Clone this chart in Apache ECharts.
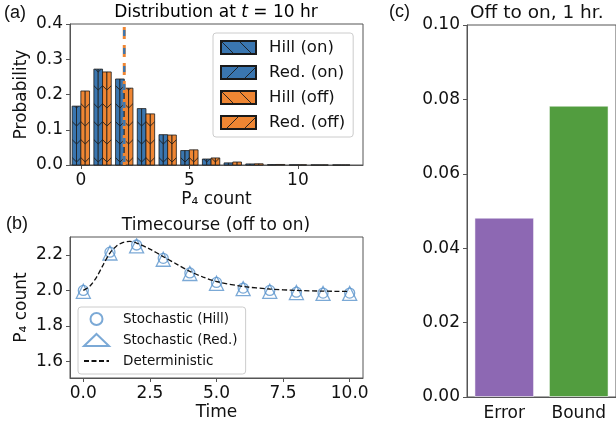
<!DOCTYPE html>
<html>
<head>
<meta charset="utf-8">
<script src="https://cdn.jsdelivr.net/npm/echarts@6/dist/echarts.min.js"></script>
<style>
  html, body { margin: 0; padding: 0; background: #fff; }
  #main { width: 616px; height: 428px; }
</style>
</head>
<body>
<div id="main"></div>
<script>
// (a) distribution at t = 10 hr
var counts = [0, 1, 2, 3, 4, 5, 6, 7, 8, 9, 10, 11, 12];
var hillOn  = [0.167, 0.272, 0.244, 0.160, 0.086, 0.041, 0.017, 0.006, 0.003, 0.001, 0.0005, 0.0002, 0.0001];
var redOn   = [0.167, 0.272, 0.244, 0.160, 0.086, 0.041, 0.017, 0.006, 0.003, 0.001, 0.0005, 0.0002, 0.0001];
var hillOff = [0.210, 0.264, 0.218, 0.145, 0.085, 0.043, 0.020, 0.0085, 0.0035, 0.0015, 0.0005, 0.0002, 0.0001];
var redOff  = [0.210, 0.264, 0.218, 0.145, 0.085, 0.043, 0.020, 0.0085, 0.0035, 0.0015, 0.0005, 0.0002, 0.0001];
var meanCount = 2;

// (b) timecourse
var times     = [0, 1, 2, 3, 4, 5, 6, 7, 8, 9, 10];
var stochHill = [2.00, 2.215, 2.255, 2.180, 2.098, 2.045, 2.013, 2.000, 1.990, 1.985, 1.985];
var stochRed  = [1.995, 2.21, 2.25, 2.175, 2.095, 2.040, 2.010, 1.995, 1.988, 1.983, 1.983];
var detT   = [0, 0.25, 0.5, 0.75, 1, 1.25, 1.5, 1.75, 2, 2.5, 3, 3.5, 4, 4.5, 5, 6, 7, 8, 9, 10];
var detVal = [2.00, 2.025, 2.075, 2.145, 2.21, 2.25, 2.27, 2.275, 2.266, 2.232, 2.19, 2.148, 2.107, 2.075, 2.05, 2.022, 2.008, 2.000, 1.996, 1.994];

// (c) off to on, 1 hr
var barCats = ['Error', 'Bound'];
var barVals = [0.0482, 0.0783];

var FONT = 'DejaVu Sans';
var BLUE = '#3a76b0', ORANGE = '#ef8633';
var TILE = 18;

// hatch tile: '\' or '/' lines over a solid colour
function hatchCanvas(color, dir) {
  var c = document.createElement('canvas');
  c.width = TILE; c.height = TILE;
  var g = c.getContext('2d');
  g.fillStyle = color;
  g.fillRect(0, 0, TILE, TILE);
  g.strokeStyle = '#1a1a1a';
  g.lineWidth = 0.9;
  g.beginPath();
  for (var k = -1; k <= 1; k++) {
    if (dir === '\\') {
      g.moveTo(-2, -2 + k * TILE); g.lineTo(TILE + 2, TILE + 2 + k * TILE);
    } else {
      g.moveTo(-2, TILE + 2 + k * TILE); g.lineTo(TILE + 2, -2 + k * TILE);
    }
  }
  g.stroke();
  return c;
}

function pairs(xs, ys) {
  return xs.map(function (x, i) { return [x, ys[i]]; });
}

// off = left edge offset from count, seam = where the two hatches meet
function histSeries(name, vals, off, seam, cvs) {
  return {
    name: name,
    type: 'custom',
    xAxisIndex: 0, yAxisIndex: 0,
    itemStyle: { color: { image: cvs, repeat: 'repeat' }, borderColor: '#1a1a1a', borderWidth: 0.8 },
    data: pairs(counts, vals),
    renderItem: function (params, api) {
      var x = api.value(0), y = api.value(1);
      var p0 = api.coord([x + off, y]);
      var p1 = api.coord([x + off + 0.2, 0]);
      var s = api.coord([x + seam, 0]);
      return {
        type: 'rect',
        shape: { x: p0[0], y: p0[1], width: p1[0] - p0[0], height: p1[1] - p0[1] },
        style: { fill: { image: cvs, repeat: 'repeat', x: s[0], y: 0 }, stroke: '#1a1a1a', lineWidth: 0.8 }
      };
    }
  };
}

var cHillOn = hatchCanvas(BLUE, '\\'), cRedOn = hatchCanvas(BLUE, '/');
var cHillOff = hatchCanvas(ORANGE, '\\'), cRedOff = hatchCanvas(ORANGE, '/');

var axisCol = '#555';
var lblStyle = { fontFamily: FONT, fontSize: 17, color: '#111' };
function lineAx() { return { show: true, onZero: false, lineStyle: { color: axisCol, width: 1 } }; }

var myChart = echarts.init(document.getElementById('main'));

var option = {
  animation: false,
  textStyle: { fontFamily: FONT },
  grid: [
    { left: 70, top: 24, width: 293, height: 141, show: true, borderColor: axisCol, borderWidth: 1, backgroundColor: 'transparent' },
    { left: 70, top: 237, width: 293, height: 141, show: true, borderColor: axisCol, borderWidth: 1, backgroundColor: 'transparent' },
    { left: 467, top: 25, width: 154, height: 372, show: true, borderColor: axisCol, borderWidth: 1, backgroundColor: 'transparent' }
  ],
  graphic: [
    { type: 'text', left: 4, top: 4, style: { text: '(a)', font: '18px "Liberation Sans"', fill: '#111' } },
    { type: 'text', left: 6, top: 215, style: { text: '(b)', font: '18px "Liberation Sans"', fill: '#111' } },
    { type: 'text', left: 389, top: 3, style: { text: '(c)', font: '18px "Liberation Sans"', fill: '#111' } },
    { type: 'text', x: 216, y: 13, style: {
        text: '{n|Distribution at }{i|t}{n| = 10 hr}', textAlign: 'center', textVerticalAlign: 'middle',
        rich: { n: { fontFamily: FONT, fontSize: 17, color: '#111' },
                i: { fontFamily: FONT, fontSize: 17, fontStyle: 'italic', color: '#111' } } } },
    { type: 'text', x: 216, y: 226, style: { text: 'Timecourse (off to on)', textAlign: 'center', textVerticalAlign: 'middle',
        fontFamily: FONT, fontSize: 17, fill: '#111' } },
    { type: 'text', x: 470, y: 13, style: { text: 'Off to on, 1 hr.', textAlign: 'left', textVerticalAlign: 'middle',
        fontFamily: FONT, fontSize: 18.5, fill: '#111' } }
  ],
  legend: [
    {
      left: 213, top: 33, orient: 'vertical',
      backgroundColor: '#fff', borderColor: '#ccc', borderWidth: 1, borderRadius: 3,
      padding: [6, 8, 6, 7], itemGap: 8, itemWidth: 35, itemHeight: 13, icon: 'rect',
      textStyle: { fontFamily: FONT, fontSize: 16.5, color: '#111', padding: [0, 0, 0, 8] },
      data: ['Hill (on)', 'Red. (on)', 'Hill (off)', 'Red. (off)']
    },
    {
      left: 78, top: 307, orient: 'vertical',
      backgroundColor: '#fff', borderColor: '#ccc', borderWidth: 1, borderRadius: 3,
      padding: [5, 8, 6, 5], itemGap: 7, itemWidth: 25, itemHeight: 12,
      textStyle: { fontFamily: FONT, fontSize: 13.5, color: '#111', padding: [0, 0, 0, 9] },
      data: ['Stochastic (Hill)', 'Stochastic (Red.)', 'Deterministic']
    }
  ],
  xAxis: [
    {
      gridIndex: 0, type: 'value', min: -0.5, max: 13,
      splitLine: { show: false }, axisLine: lineAx(),
      axisTick: { customValues: [0, 5, 10], length: 4, lineStyle: { color: axisCol } },
      axisLabel: Object.assign({ customValues: [0, 5, 10], margin: 7 }, lblStyle),
      name: 'P\u2084 count', nameLocation: 'middle', nameGap: 26, nameTextStyle: lblStyle
    },
    {
      gridIndex: 1, type: 'value', min: -0.5, max: 10.5,
      splitLine: { show: false }, axisLine: lineAx(),
      axisTick: { customValues: [0, 2.5, 5, 7.5, 10], length: 4, lineStyle: { color: axisCol } },
      axisLabel: Object.assign({ customValues: [0, 2.5, 5, 7.5, 10], margin: 7,
        formatter: function (v) { return v.toFixed(1); } }, lblStyle),
      name: 'Time', nameLocation: 'middle', nameGap: 26, nameTextStyle: lblStyle
    },
    {
      gridIndex: 2, type: 'category', data: barCats,
      axisLine: lineAx(),
      axisTick: { alignWithLabel: true, length: 4, lineStyle: { color: axisCol } },
      axisLabel: Object.assign({ margin: 8 }, lblStyle)
    }
  ],
  yAxis: [
    {
      gridIndex: 0, type: 'value', min: 0, max: 0.4, interval: 0.1,
      splitLine: { show: false }, axisLine: lineAx(),
      axisTick: { show: true, length: 4, lineStyle: { color: axisCol } },
      axisLabel: Object.assign({ margin: 7, formatter: function (v) { return v.toFixed(1); } }, lblStyle),
      name: 'Probability', nameLocation: 'middle', nameGap: 40, nameTextStyle: lblStyle
    },
    {
      gridIndex: 1, type: 'value', min: 1.508, max: 2.3,
      splitLine: { show: false }, axisLine: lineAx(),
      axisTick: { show: true, customValues: [1.6, 1.8, 2.0, 2.2], length: 4, lineStyle: { color: axisCol } },
      axisLabel: Object.assign({ customValues: [1.6, 1.8, 2.0, 2.2], margin: 7,
        formatter: function (v) { return v.toFixed(1); } }, lblStyle),
      name: 'P\u2084 count', nameLocation: 'middle', nameGap: 40, nameTextStyle: lblStyle
    },
    {
      gridIndex: 2, type: 'value', min: 0, max: 0.1, interval: 0.02,
      splitLine: { show: false }, axisLine: lineAx(),
      axisTick: { show: true, length: 4, lineStyle: { color: axisCol } },
      axisLabel: Object.assign({ margin: 7, formatter: function (v) { return v.toFixed(2); } }, lblStyle)
    }
  ],
  series: [
    histSeries('Hill (on)', hillOn, -0.4, -0.2, cHillOn),
    histSeries('Red. (on)', redOn, -0.2, -0.2, cRedOn),
    histSeries('Hill (off)', hillOff, 0, 0.2, cHillOff),
    histSeries('Red. (off)', redOff, 0.2, 0.2, cRedOff),
    {
      name: 'mean-off', type: 'line', xAxisIndex: 0, yAxisIndex: 0, silent: true, symbol: 'none', z: 5,
      lineStyle: { color: ORANGE, width: 3, type: [12, 6] },
      data: [[meanCount, 0], [meanCount, 0.4]]
    },
    {
      name: 'mean-on', type: 'line', xAxisIndex: 0, yAxisIndex: 0, silent: true, symbol: 'none', z: 6,
      lineStyle: { color: BLUE, width: 2.4, type: [6, 12], dashOffset: -3 },
      data: [[meanCount, 0], [meanCount, 0.4]]
    },
    {
      name: 'Stochastic (Hill)', type: 'scatter', xAxisIndex: 1, yAxisIndex: 1,
      symbol: 'circle', symbolSize: 10,
      itemStyle: { color: 'rgba(255,255,255,0)', borderColor: '#5a94cc', borderWidth: 1.3 },
      data: pairs(times, stochHill)
    },
    {
      name: 'Stochastic (Red.)', type: 'scatter', xAxisIndex: 1, yAxisIndex: 1,
      symbol: 'triangle', symbolSize: 14,
      itemStyle: { color: 'rgba(255,255,255,0)', borderColor: '#5a94cc', borderWidth: 1.3 },
      data: pairs(times, stochRed)
    },
    {
      name: 'Deterministic', type: 'line', xAxisIndex: 1, yAxisIndex: 1, z: 4,
      smooth: 0.3, symbol: 'none', showSymbol: false,
      itemStyle: { color: 'rgba(0,0,0,0)', borderWidth: 0 },
      lineStyle: { color: '#111', width: 1.3, type: [5, 2.5] },
      data: pairs(detT, detVal)
    },
    {
      name: 'bars', type: 'bar', xAxisIndex: 2, yAxisIndex: 2, barWidth: '80%',
      data: [
        { value: barVals[0], itemStyle: { color: '#8d68b3', borderColor: 'rgba(255,255,255,0.5)', borderWidth: 1 } },
        { value: barVals[1], itemStyle: { color: '#529d3f', borderColor: 'rgba(255,255,255,0.5)', borderWidth: 1 } }
      ]
    }
  ]
};

myChart.setOption(option);
</script>
</body>
</html>
